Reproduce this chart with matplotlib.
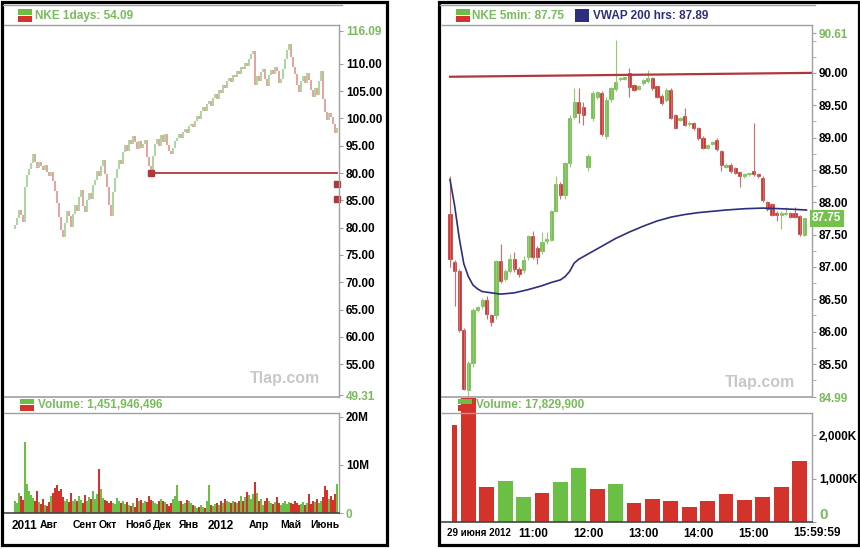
"""
Two NKE stock charts side by side: daily candles with volume (left),
5-minute candles with VWAP and volume (right).
"""
import numpy as np
import matplotlib
matplotlib.use('Agg')
import matplotlib.pyplot as plt
from matplotlib.patches import Rectangle
from matplotlib.lines import Line2D
from matplotlib.transforms import blended_transform_factory

plt.rcParams['font.family'] = ['Liberation Sans', 'DejaVu Sans']

# ---------------- left chart: daily bars ----------------
day_first_open = 79.8
day_close = [
    80.5, 81.8, 83.2, 82.4, 81.0, 87.5, 89.6, 90.8, 91.9, 93.4,
    92.1, 91.0, 92.0, 91.2, 90.6, 91.5, 90.2, 89.4, 90.1, 88.6,
    86.8, 84.5, 82.0, 79.6, 78.2, 80.9, 83.0, 82.2, 80.1, 82.5,
    84.2, 83.1, 85.6, 86.9, 84.0, 82.9, 85.1, 86.4, 85.2, 87.9,
    88.8, 90.4, 89.5, 91.2, 92.3, 89.8, 87.4, 84.2, 82.1, 86.5,
    89.0, 90.8, 92.4, 91.6, 93.9, 95.2, 94.1, 96.0, 95.3, 96.8,
    95.6, 94.4, 95.8, 94.6, 95.4, 96.1, 93.0, 91.2, 90.6, 93.2,
    95.4, 96.3, 95.0, 96.9, 95.7, 97.1, 95.2, 94.0, 93.4, 94.6,
    95.8, 96.4, 97.2, 96.5, 97.6, 98.1, 97.3, 98.6, 99.0, 98.4,
    99.6, 100.5, 99.9, 101.3, 102.0, 101.4, 102.6, 103.1, 102.3, 103.8,
    104.4, 103.6, 105.2, 104.7, 106.1, 105.5, 106.8, 107.4, 106.6, 108.0,
    107.5, 108.6, 108.1, 109.4, 109.0, 110.2, 109.6, 110.9, 111.8, 112.4,
    106.2, 107.8, 106.9, 108.5, 109.1, 107.2, 106.0, 107.9, 108.8, 108.2,
    109.4, 108.6, 106.5, 107.3, 109.0, 110.8, 112.5, 113.6, 111.2, 109.4,
    108.2, 106.1, 104.8, 106.9, 107.8, 106.4, 108.3, 107.1, 105.2, 104.0,
    105.6, 104.2, 106.8, 108.6, 103.5, 101.2, 99.8, 101.0, 100.2, 98.9, 97.4, 98.2,
]
day_volume_m = [
    2.5, 2.0, 4.2, 3.5, 2.8, 14.8, 6.0, 4.5, 3.8, 3.2,
    2.5, 4.6, 2.2, 1.8, 3.0, 1.6, 1.4, 2.2, 3.6, 4.2,
    5.2, 5.8, 4.6, 5.0, 3.4, 2.6, 3.0, 2.2, 4.1, 2.4,
    3.0, 2.6, 3.5, 2.8, 2.0, 3.8, 2.6, 3.3, 3.0, 4.6,
    3.0, 4.0, 9.2, 5.0, 3.2, 2.8, 2.5, 2.0, 2.4, 2.0,
    1.8, 3.2, 2.4, 2.0, 2.6, 1.8, 2.2, 1.6, 1.5, 2.0,
    1.2, 3.2, 2.4, 2.8, 2.0, 2.6, 2.2, 3.6, 2.8, 2.4,
    2.0, 1.8, 2.6, 3.0, 2.4, 2.2, 1.8, 1.4, 2.0, 3.0,
    3.6, 5.8, 2.6, 2.4, 1.8, 2.0, 2.8, 2.6, 2.0, 1.6,
    1.4, 1.0, 1.2, 1.6, 1.2, 1.0, 2.4, 5.8, 1.6, 1.4,
    1.8, 2.0, 1.6, 2.4, 2.0, 3.0, 2.6, 2.2, 2.0, 2.6,
    2.2, 2.0, 2.4, 3.6, 2.6, 3.4, 4.4, 3.8, 3.0, 4.0,
    6.4, 4.2, 2.6, 3.0, 1.6, 2.4, 3.2, 2.6, 2.0, 1.8,
    2.2, 3.4, 2.0, 1.6, 2.0, 2.4, 1.8, 2.2, 2.0, 1.8,
    2.4, 2.0, 1.6, 1.8, 2.2, 1.6, 2.0, 4.0, 1.8, 2.6,
    2.2, 3.0, 2.0, 2.4, 3.4, 5.6, 4.8, 3.0, 3.6, 2.8, 4.0, 6.0,
]
day_month_idx = [5, 17, 35, 46.5, 61.5, 73.5, 87, 103, 122, 138, 155]
day_month_labels = ['2011', 'Авг', 'Сент', 'Окт', 'Нояб', 'Дек', 'Янв', '2012', 'Апр', 'Май', 'Июнь']
day_price_ticks = [116.09, 110, 105, 100, 95, 90, 85, 80, 75, 70, 65, 60, 55, 49.31]
day_price_labels = ['116.09', '110.00', '105.00', '100.00', '95.00', '80.00', '85.00',
                    '80.00', '75.00', '70.00', '65.00', '60.00', '55.00', '49.31']
day_support_idx = [68, 161]
day_support_val = [90.0, 90.0]
day_marks_val = [88.0, 85.2]

# ---------------- right chart: 5-minute bars, 29 June 2012 ----------------
m5_open = [87.82, 87.07, 86.94, 86.02, 85.10, 85.51, 86.34, 86.40, 86.49, 86.25,
           86.25, 87.09, 86.82, 86.94, 87.12, 86.97, 86.95, 87.15, 87.48, 87.29,
           87.25, 87.40, 87.42, 87.87, 88.28, 88.12, 88.61, 89.32, 89.55, 89.47,
           88.55, 89.30, 89.63, 89.69, 89.02, 89.59, 89.75, 89.90, 89.91, 90.00,
           89.81, 89.75, 89.84, 89.88, 89.92, 89.79, 89.65, 89.58, 89.74, 89.35,
           89.27, 89.33, 89.21, 89.22, 89.15, 89.00, 88.84, 88.90, 88.97, 88.79,
           88.55, 88.58, 88.53, 88.47, 88.40, 88.43, 88.49, 88.43, 88.38, 88.00,
           87.97, 87.84, 87.80, 87.82, 87.83, 87.83, 87.78, 87.50]
m5_high = [88.40, 87.10, 86.97, 86.05, 85.55, 86.36, 86.40, 86.52, 86.55, 86.28,
           87.10, 87.36, 86.97, 87.20, 87.23, 87.00, 87.17, 87.50, 87.56, 87.32,
           87.54, 87.54, 87.88, 88.40, 88.32, 88.63, 89.35, 89.76, 89.77, 89.55,
           88.75, 89.72, 89.72, 89.72, 89.62, 89.78, 90.51, 89.94, 89.94, 90.08,
           89.83, 89.82, 89.90, 90.05, 89.94, 89.80, 89.67, 89.76, 89.76, 89.36,
           89.32, 89.46, 89.25, 89.24, 89.17, 89.02, 88.90, 88.95, 88.99, 88.81,
           88.60, 88.60, 88.55, 88.49, 88.45, 88.45, 89.23, 88.45, 88.40, 88.02,
           87.99, 87.86, 87.86, 87.92, 87.85, 87.92, 87.80, 87.76]
m5_low = [87.00, 86.40, 86.00, 85.10, 84.99, 85.45, 86.30, 86.35, 86.20, 86.08,
          86.20, 86.75, 86.78, 86.90, 86.92, 86.85, 86.90, 87.10, 87.12, 87.05,
          87.20, 87.36, 87.40, 87.85, 88.05, 88.05, 88.55, 89.28, 89.23, 89.20,
          88.48, 89.25, 89.60, 89.02, 88.98, 89.55, 89.72, 89.88, 89.89, 89.63,
          89.72, 89.73, 89.82, 89.85, 89.74, 89.61, 89.50, 89.55, 89.29, 89.13,
          89.25, 89.18, 89.18, 89.12, 88.97, 88.82, 88.82, 88.88, 88.80, 88.48,
          88.53, 88.46, 88.44, 88.23, 88.38, 88.41, 88.40, 88.38, 88.00, 87.86,
          87.78, 87.71, 87.58, 87.80, 87.76, 87.75, 87.48, 87.48]
m5_close = [87.12, 86.94, 86.02, 85.12, 85.51, 86.34, 86.38, 86.49, 86.28, 86.15,
            87.09, 86.79, 86.94, 87.12, 86.97, 86.89, 87.10, 87.48, 87.15, 87.15,
            87.38, 87.43, 87.87, 88.28, 88.12, 88.61, 89.31, 89.55, 89.38, 89.35,
            88.72, 89.69, 89.70, 89.05, 89.58, 89.77, 89.86, 89.92, 89.92, 89.78,
            89.74, 89.80, 89.89, 89.92, 89.76, 89.63, 89.53, 89.74, 89.31, 89.15,
            89.30, 89.20, 89.23, 89.15, 89.00, 88.84, 88.89, 88.93, 88.82, 88.58,
            88.58, 88.48, 88.46, 88.40, 88.44, 88.44, 88.43, 88.40, 88.03, 87.89,
            87.80, 87.80, 87.83, 87.84, 87.77, 87.77, 87.51, 87.75]
vwap_idx = [0, 1, 2, 3, 4, 5, 6, 7, 9, 11, 14, 17, 20, 22, 24, 25, 26, 27, 28, 30,
            33, 36, 39, 42, 45, 48, 51, 54, 57, 60, 64, 68, 72, 75, 77.5]
vwap_val = [88.35, 87.95, 87.45, 87.05, 86.85, 86.72, 86.66, 86.62, 86.60, 86.58,
            86.60, 86.65, 86.71, 86.76, 86.80, 86.85, 86.93, 87.06, 87.12, 87.20,
            87.32, 87.44, 87.54, 87.63, 87.71, 87.77, 87.81, 87.84, 87.86, 87.88,
            87.90, 87.91, 87.90, 87.89, 87.88]
resist_idx = [0, 78.5]
resist_val = [89.94, 90.0]
# volume in thousands: first bucket is 9:30-9:40, the rest are 20 minutes each
m5_vol_k = [2250, 2860, 810, 950, 580, 670, 930, 1250, 770, 880,
            450, 530, 480, 340, 490, 650, 520, 580, 820, 1420]
m5_vol_up = [0, 0, 0, 1, 1, 0, 1, 1, 0, 1, 0, 0, 0, 0, 0, 0, 0, 0, 0, 0]
m5_hours = ['11:00', '12:00', '13:00', '14:00', '15:00']
m5_price_ticks = [90.61, 90.0, 89.5, 89.0, 88.5, 88.0, 87.5, 87.0, 86.5, 86.0, 85.5, 84.99]
m5_price_labels = ['90.61', '90.00', '89.50', '89.00', '88.50', '88.00', '87.50',
                   '87.00', '86.50', '86.00', '85.50', '84.99']
m5_last = 87.75

# ---------------- styling ----------------
W, H = 860, 549
GREEN = '#6cbf45'
RED = '#d3332b'
PALE_GREEN = '#a9d79c'
PALE_RED = '#e8a39e'
TEXT_GREEN = '#79bb5c'
NAVY = '#2e2e7e'
LINE_GRAY = '#a0a0a0'
LINE_RED = '#b2373a'

fig = plt.figure(figsize=(W / 100, H / 100), dpi=100)


def px_box(x, y, w, h):
    """Pixel box (top-left origin) to figure fraction rect."""
    return [x / W, 1 - (y + h) / H, w / W, h / H]


def fig_hline(x0, x1, y, color, lw):
    fig.add_artist(Line2D([x0 / W, x1 / W], [1 - y / H, 1 - y / H],
                          transform=fig.transFigure, color=color, lw=lw))


def fig_text(x, y, s, **kw):
    opts = dict(va='center', ha='left', fontweight='bold', fontsize=8.5)
    opts.update(kw)
    fig.text(x / W, 1 - y / H, s, **opts)


def legend_icon(x, y, two_tone=True, color=NAVY):
    # legend swatch: green over red, or a plain square
    if two_tone:
        fig.add_artist(Rectangle((x / W, 1 - (y + 6) / H), 14 / W, 5.5 / H,
                                 transform=fig.transFigure, color=GREEN, lw=0))
        fig.add_artist(Rectangle((x / W, 1 - (y + 13) / H), 14 / W, 6 / H,
                                 transform=fig.transFigure, color=RED, lw=0))
    else:
        fig.add_artist(Rectangle((x / W, 1 - (y + 13) / H), 14 / W, 13 / H,
                                 transform=fig.transFigure, color=color, lw=0))


def style_axes(ax, bottom_color=LINE_GRAY):
    ax.set_facecolor('white')
    ax.spines['left'].set_visible(False)
    for side in ('top', 'right'):
        ax.spines[side].set_color(LINE_GRAY)
        ax.spines[side].set_linewidth(1.0)
    ax.spines['bottom'].set_color(bottom_color)
    ax.spines['bottom'].set_linewidth(1.2)
    ax.yaxis.tick_right()
    ax.tick_params(axis='y', which='both', direction='out', length=3, color=LINE_GRAY,
                   pad=2, labelsize=8.5)
    ax.tick_params(axis='x', length=0)


def color_edge_labels(ax, first=0, last=-1):
    labels = ax.get_yticklabels()
    for i in (first, last):
        labels[i].set_color(TEXT_GREEN)


# ================= left panel =================
n_day = len(day_close)
day_x = np.arange(n_day)
day_open = np.array([day_first_open] + day_close[:-1])
day_c = np.array(day_close)
day_up = day_c >= day_open

axp = fig.add_axes(px_box(3, 25, 336, 372))
style_axes(axp)
axp.vlines(day_x, np.minimum(day_open, day_c), np.maximum(day_open, day_c),
           colors=np.where(day_up, PALE_GREEN, PALE_RED), lw=1.4)
axp.plot(day_support_idx, day_support_val, color=LINE_RED, lw=1.3)
axp.plot(day_support_idx[0], day_support_val[0], marker='s', ms=5, color=LINE_RED)
axp.plot([day_x[-1]] * len(day_marks_val), day_marks_val, ls='none', marker='s', ms=4,
         color=LINE_RED, clip_on=False)
axp.set_xlim(-6, 162)
axp.set_ylim(49.0, 117.1)
axp.set_xticks([])
axp.set_yticks(day_price_ticks)
axp.set_yticklabels(day_price_labels, fontweight='bold')
color_edge_labels(axp)

axv = fig.add_axes(px_box(3, 413, 336, 100))
style_axes(axv, bottom_color='#444444')
axv.bar(day_x, day_volume_m, width=1.0, color=np.where(day_up, GREEN, RED), lw=0)
axv.set_xlim(-6, 162)
axv.set_ylim(0, 20.8)
axv.set_yticks([20, 10, 0])
axv.set_yticklabels(['20M', '10M', '0'], fontweight='bold')
axv.get_yticklabels()[-1].set_color(TEXT_GREEN)
axv.set_xticks(day_month_idx)
axv.set_xticklabels(day_month_labels, fontweight='bold', fontsize=7.5)
for lbl in axv.get_xticklabels():
    if lbl.get_text().isdigit():
        lbl.set_fontsize(8.5)
axv.tick_params(axis='x', pad=5)

# ================= right panel =================
n_m5 = len(m5_close)
m5_x = np.arange(n_m5)
o = np.array(m5_open)
c = np.array(m5_close)
m5_up = c >= o

ax2 = fig.add_axes(px_box(442, 25, 370, 372))
style_axes(ax2)
ax2.vlines(m5_x, m5_low, m5_high, colors=np.where(m5_up, '#8fcf70', '#d86a66'), lw=0.8)
body_lo = np.minimum(o, c)
body_h = np.maximum(np.abs(c - o), 0.02)
ax2.bar(m5_x, body_h, bottom=body_lo, width=0.72,
        color=np.where(m5_up, '#74c24c', '#d22f2f'),
        edgecolor=np.where(m5_up, '#5aa838', '#a82222'), lw=0.4)
ax2.plot(resist_idx, resist_val, color=LINE_RED, lw=1.6)
ax2.plot(vwap_idx, vwap_val, color=NAVY, lw=1.2)
ax2.set_xlim(-1.74, 78.7)
ax2.set_ylim(84.99, 90.74)
ax2.set_xticks([])
ax2.set_yticks(m5_price_ticks)
ax2.set_yticks(np.arange(85.25, 90.6, 0.25), minor=True)
ax2.set_yticklabels(m5_price_labels, fontweight='bold')
color_edge_labels(ax2)
ax2.text(1.0, m5_last, f'{m5_last:.2f}', transform=blended_transform_factory(ax2.transAxes, ax2.transData),
         ha='left', va='center', color='white', fontweight='bold', fontsize=8.5,
         bbox=dict(facecolor='#74c24c', edgecolor='none', pad=1.6))

ax2v = fig.add_axes(px_box(442, 413, 370, 109))
style_axes(ax2v, bottom_color='#444444')
# bucket edges in 5-minute bar units: 9:30-9:40, then every 20 minutes to 16:00
edges = np.r_[0, np.arange(2, n_m5, 4), n_m5]
centers = (edges[:-1] + edges[1:]) / 2
widths = np.diff(edges) - 0.75
ax2v.bar(centers, m5_vol_k, width=widths, color=[GREEN if u else RED for u in m5_vol_up],
         lw=0, clip_on=False)
ax2v.set_xlim(-1.74, 78.7)
ax2v.set_ylim(0, 2520)
ax2v.set_yticks([2000, 1000, 0])
ax2v.set_yticklabels(['2,000K', '1,000K', '0'], fontweight='bold')
zero = ax2v.get_yticklabels()[-1]
zero.set_color(TEXT_GREEN)
zero.set_fontsize(11)
zero.set_verticalalignment('bottom')
hour_idx = [(int(h[:2]) * 60 - 570) / 5 for h in m5_hours]
ax2v.set_xticks(hour_idx)
ax2v.set_xticklabels(m5_hours, fontweight='bold', fontsize=8.5)
ax2v.tick_params(axis='x', pad=4)
fig_text(447, 533, '29 июня 2012', fontsize=7)
fig_text(817, 533, '15:59:59', ha='center')

# ================= legends, separators, frames =================
fig_hline(3, 342, 5, LINE_GRAY, 1.0)
fig_hline(440, 815, 5, LINE_GRAY, 1.0)

legend_icon(18, 9)
fig_text(35, 16, 'NKE 1days: 54.09', color=TEXT_GREEN)
legend_icon(20, 398)
fig_text(38, 405, 'Volume: 1,451,946,496', color=TEXT_GREEN)

legend_icon(456, 9)
fig_text(472, 16, 'NKE 5min: 87.75', color=TEXT_GREEN)
legend_icon(575, 9, two_tone=False)
fig_text(593, 16, 'VWAP 200 hrs: 87.89', color=NAVY)
legend_icon(458, 398)
fig_text(476, 405, 'Volume: 17,829,900', color=TEXT_GREEN)

fig_text(250, 378, 'Tlap.com', color='#c8c8c8', fontsize=11.5)
fig_text(725, 383, 'Tlap.com', color='#c8c8c8', fontsize=11.5)

for x0, x1 in ((1.5, 386.5), (438.5, 858.5)):
    fig.add_artist(Rectangle((x0 / W, 1 - 544.5 / H), (x1 - x0) / W, 543 / H,
                             transform=fig.transFigure, fill=False, edgecolor='black', lw=2.3))

fig.savefig('out.png', dpi=100)
plt.close(fig)
